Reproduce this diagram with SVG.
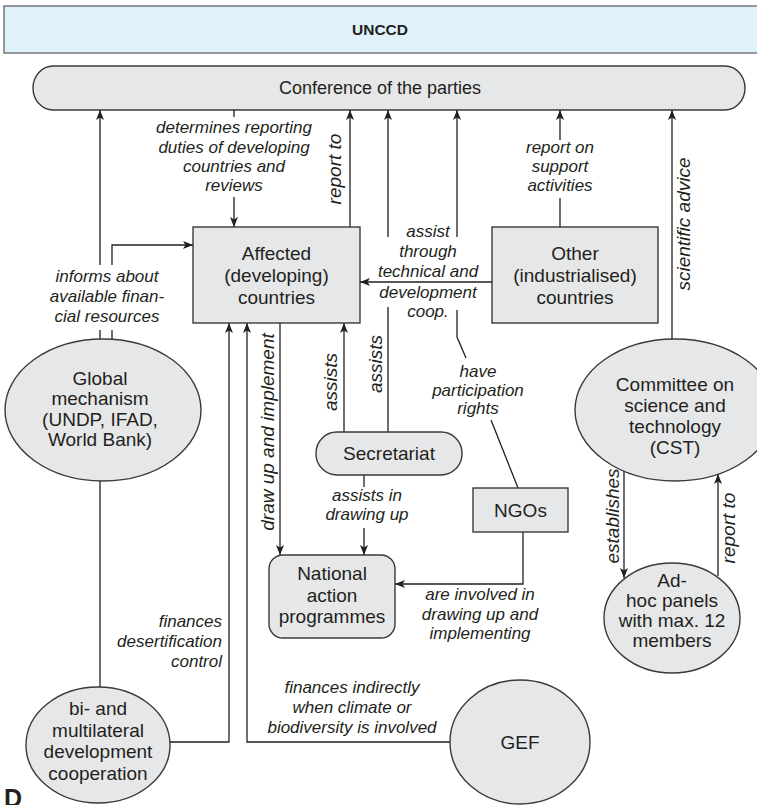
<svg xmlns="http://www.w3.org/2000/svg" width="757" height="805" viewBox="0 0 757 805">
<defs>
<style>
.node{fill:#e6e7e8;stroke:#3a3a3a;stroke-width:1.4}
.t{font-family:"Liberation Sans",Arial,sans-serif;font-size:19px;fill:#231f20;text-anchor:middle}
.l{font-family:"Liberation Sans",Arial,sans-serif;font-size:17px;font-style:italic;fill:#231f20;text-anchor:middle}
.r{font-family:"Liberation Sans",Arial,sans-serif;font-size:19px;font-style:italic;fill:#231f20;text-anchor:middle}
.c{fill:none;stroke:#231f20;stroke-width:1.3}
</style>
<marker id="ah" viewBox="0 0 10 8" refX="10" refY="4" markerWidth="10" markerHeight="8" orient="auto" markerUnits="userSpaceOnUse">
<path d="M0,0 L10,4 L0,8 L2.5,4 z" fill="#231f20"/>
</marker>
</defs>
<rect width="757" height="805" fill="#ffffff"/>

<g id="unccd">
<rect x="4" y="6" width="770" height="47" fill="#dff1fb" stroke="#6d6e71" stroke-width="1.4"/>
<text x="380" y="35" style="font-family:'Liberation Sans',Arial,sans-serif;font-size:15.5px;font-weight:bold;fill:#231f20;text-anchor:middle">UNCCD</text>
</g>

<g id="cop">
<rect class="node" x="33" y="66" width="712" height="44" rx="20" ry="22"/>
<text class="t" x="380" y="94" style="font-size:18px">Conference of the parties</text>
</g>

<g id="connectors">
<path class="c" d="M100,339 V330 M100,265 V110" marker-end="url(#ah)"/>
<path class="c" d="M112,339 V330 M112,265 V245 H193" marker-end="url(#ah)"/>
<path class="c" d="M234,110 V117 M234,197 V227" marker-end="url(#ah)"/>
<path class="c" d="M350,227 V110" marker-end="url(#ah)"/>
<path class="c" d="M388,432 V307 M388,237 V110" marker-end="url(#ah)"/>
<path class="c" d="M518,488 L491,420 M466,358 L457,337 V310 M457,237 V110" marker-end="url(#ah)"/>
<path class="c" d="M492,282 H360" marker-end="url(#ah)"/>
<path class="c" d="M560,227 V198 M560,140 V110" marker-end="url(#ah)"/>
<path class="c" d="M672,339 V110" marker-end="url(#ah)"/>
<path class="c" d="M344,432 V323" marker-end="url(#ah)"/>
<path class="c" d="M280,323 V555" marker-end="url(#ah)"/>
<path class="c" d="M364,475 V487 M364,528 V555" marker-end="url(#ah)"/>
<path class="c" d="M523,532 V584 H395" marker-end="url(#ah)"/>
<path class="c" d="M170,742 H229 V323" marker-end="url(#ah)"/>
<path class="c" d="M450,742 H247 V323" marker-end="url(#ah)"/>
<path class="c" d="M100,481 V687"/>
<path class="c" d="M624,471 V578" marker-end="url(#ah)"/>
<path class="c" d="M718,576 V474" marker-end="url(#ah)"/>
</g>

<g id="labels">
<text class="l" x="234" y="133">determines reporting</text>
<text class="l" x="234" y="153">duties of developing</text>
<text class="l" x="234" y="172">countries and</text>
<text class="l" x="234" y="191">reviews</text>
<text class="r" transform="translate(341,169) rotate(-90)">report to</text>
<text class="l" x="428" y="237">assist</text>
<text class="l" x="428" y="257">through</text>
<text class="l" x="428" y="277">technical and</text>
<text class="l" x="428" y="298">development</text>
<text class="l" x="428" y="317">coop.</text>
<text class="l" x="560" y="153">report on</text>
<text class="l" x="560" y="172">support</text>
<text class="l" x="560" y="191">activities</text>
<text class="r" transform="translate(690,224) rotate(-90)">scientific advice</text>
<text class="l" x="107" y="282">informs about</text>
<text class="l" x="107" y="302">available finan-</text>
<text class="l" x="107" y="322">cial resources</text>
<text class="r" transform="translate(337,382) rotate(-90)">assists</text>
<text class="r" transform="translate(382,364) rotate(-90)">assists</text>
<text class="r" transform="translate(274,432) rotate(-90)">draw up and implement</text>
<text class="l" x="478" y="377">have</text>
<text class="l" x="478" y="396">participation</text>
<text class="l" x="478" y="414">rights</text>
<text class="l" x="367" y="501">assists in</text>
<text class="l" x="367" y="520">drawing up</text>
<text class="l" x="480" y="600">are involved in</text>
<text class="l" x="480" y="620">drawing up and</text>
<text class="l" x="480" y="639">implementing</text>
<text class="r" transform="translate(619,516) rotate(-90)">establishes</text>
<text class="r" transform="translate(735,528) rotate(-90)">report to</text>
<text class="l" x="222" y="627" style="text-anchor:end">finances</text>
<text class="l" x="222" y="647" style="text-anchor:end">desertification</text>
<text class="l" x="222" y="667" style="text-anchor:end">control</text>
<text class="l" x="352" y="693">finances indirectly</text>
<text class="l" x="352" y="713">when climate or</text>
<text class="l" x="352" y="733">biodiversity is involved</text>
</g>

<g id="affected">
<rect class="node" x="193" y="227" width="167" height="96"/>
<text class="t" x="276.5" y="260">Affected</text>
<text class="t" x="276.5" y="282">(developing)</text>
<text class="t" x="276.5" y="304">countries</text>
</g>

<g id="other">
<rect class="node" x="492" y="227" width="166" height="96"/>
<text class="t" x="575" y="260">Other</text>
<text class="t" x="575" y="282">(industrialised)</text>
<text class="t" x="575" y="304">countries</text>
</g>

<g id="global">
<ellipse class="node" cx="103" cy="410" rx="98" ry="71"/>
<text class="t" x="100" y="385">Global</text>
<text class="t" x="100" y="405">mechanism</text>
<text class="t" x="100" y="425.5">(UNDP, IFAD,</text>
<text class="t" x="100" y="446">World Bank)</text>
</g>

<g id="cst">
<ellipse class="node" cx="675" cy="410" rx="100" ry="71"/>
<text class="t" x="675" y="391">Committee on</text>
<text class="t" x="675" y="412">science and</text>
<text class="t" x="675" y="433">technology</text>
<text class="t" x="675" y="454">(CST)</text>
</g>

<g id="secretariat">
<rect class="node" x="316" y="432" width="146" height="43" rx="21" ry="21"/>
<text class="t" x="389" y="460">Secretariat</text>
</g>

<g id="ngos">
<rect class="node" x="473" y="488" width="95" height="44"/>
<text class="t" x="520.5" y="517">NGOs</text>
</g>

<g id="nap">
<rect class="node" x="269" y="555" width="126" height="83" rx="14" ry="14"/>
<text class="t" x="332" y="580">National</text>
<text class="t" x="332" y="602">action</text>
<text class="t" x="332" y="623">programmes</text>
</g>

<g id="adhoc">
<ellipse class="node" cx="672" cy="618" rx="68" ry="55"/>
<text class="t" x="672" y="587">Ad-</text>
<text class="t" x="672" y="607">hoc panels</text>
<text class="t" x="672" y="627">with max. 12</text>
<text class="t" x="672" y="647">members</text>
</g>

<g id="bilateral">
<ellipse class="node" cx="98" cy="745" rx="72" ry="58"/>
<text class="t" x="98" y="715">bi- and</text>
<text class="t" x="98" y="737">multilateral</text>
<text class="t" x="98" y="758">development</text>
<text class="t" x="98" y="780">cooperation</text>
</g>

<g id="gef">
<ellipse class="node" cx="520" cy="742" rx="70" ry="62"/>
<text class="t" x="520" y="749">GEF</text>
</g>

<text x="4" y="807" style="font-family:'Liberation Sans',Arial,sans-serif;font-size:25px;font-weight:bold;fill:#231f20">D</text>
</svg>
